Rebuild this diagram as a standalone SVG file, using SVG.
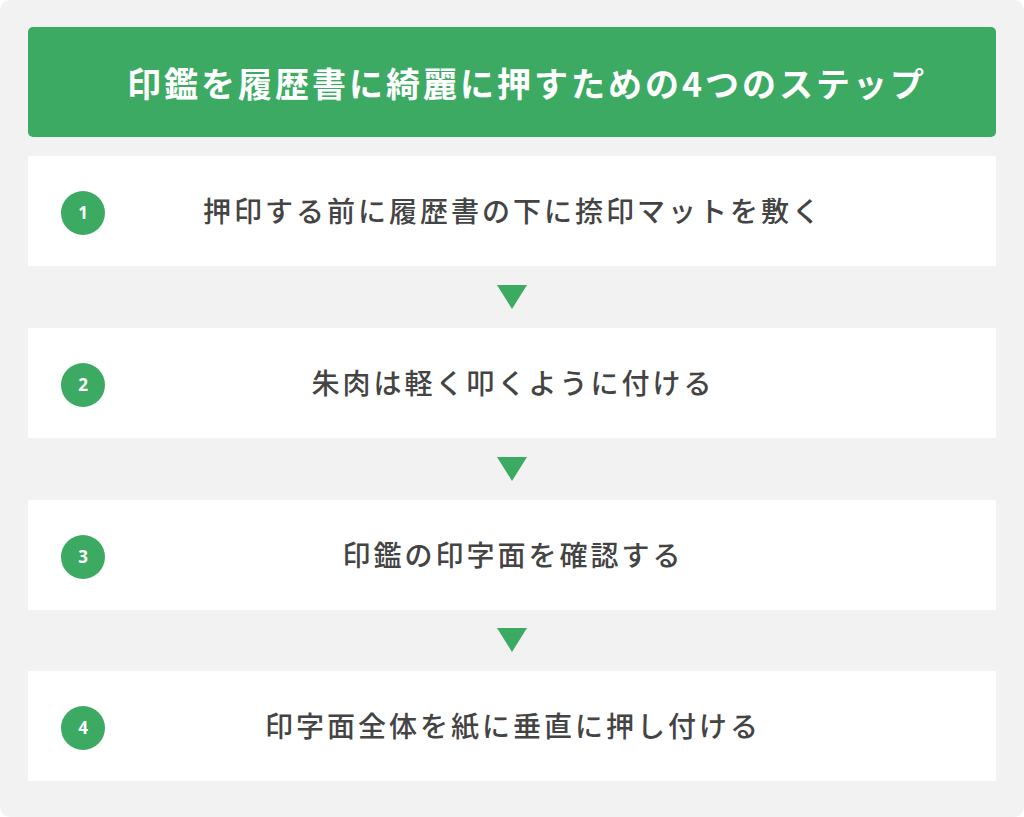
<svg xmlns="http://www.w3.org/2000/svg" width="1024" height="817" viewBox="0 0 1024 817">
<style>
.box{fill:#ffffff}
.num{fill:#3daa64}
.numt{fill:#ffffff;font-family:"Noto Sans","Noto Sans CJK JP",sans-serif;font-weight:700;font-size:17px;text-anchor:middle}
.step{fill:#444444;font-family:"Noto Sans CJK JP",sans-serif;font-weight:500;font-size:28px;letter-spacing:3px;text-anchor:middle}
.arrow{fill:#3daa64}
</style>
<rect x="0" y="0" width="1024" height="817" fill="#ffffff"/>
<rect x="0" y="0" width="1024" height="817" rx="10" fill="#f2f2f2"/>
<g id="header">
<rect x="28" y="27" width="968" height="110" rx="5" fill="#3daa64"/>
<text x="527" y="97" fill="#ffffff" font-family="Noto Sans CJK JP, sans-serif" font-weight="700" font-size="34" letter-spacing="3" text-anchor="middle">印鑑を履歴書に綺麗に押すための4つのステップ</text>
</g>
<g id="step1">
<rect class="box" x="28" y="156" width="968" height="110"/>
<circle class="num" cx="83" cy="213" r="22"/>
<text class="numt" x="83" y="219">1</text>
<text class="step" x="513" y="222">押印する前に履歴書の下に捺印マットを敷く</text>
</g>
<g id="step2">
<rect class="box" x="28" y="328" width="968" height="110"/>
<circle class="num" cx="83" cy="385" r="22"/>
<text class="numt" x="83" y="391">2</text>
<text class="step" x="513" y="394">朱肉は軽く叩くように付ける</text>
</g>
<g id="step3">
<rect class="box" x="28" y="500" width="968" height="110"/>
<circle class="num" cx="83" cy="557" r="22"/>
<text class="numt" x="83" y="563">3</text>
<text class="step" x="513" y="566">印鑑の印字面を確認する</text>
</g>
<g id="step4">
<rect class="box" x="28" y="671" width="968" height="110"/>
<circle class="num" cx="83" cy="728" r="22"/>
<text class="numt" x="83" y="734">4</text>
<text class="step" x="513" y="737">印字面全体を紙に垂直に押し付ける</text>
</g>
<g id="connectors">
<polygon class="arrow" points="497,285 527,285 512,309"/>
<polygon class="arrow" points="497,457 527,457 512,481"/>
<polygon class="arrow" points="497,628 527,628 512,652"/>
</g>
</svg>
